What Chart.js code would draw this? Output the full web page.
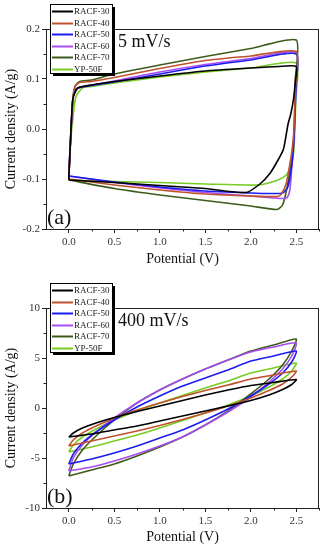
<!DOCTYPE html>
<html>
<head>
<meta charset="utf-8">
<script src="https://cdn.jsdelivr.net/npm/chart.js@4.4.0/dist/chart.umd.min.js"></script>
<style>
  html, body { margin: 0; padding: 0; background: #fff; }
  #wrap { position: relative; width: 326px; height: 550px; }
  canvas { position: absolute; left: 0; }
</style>
</head>
<body>
<div id="wrap">
  <canvas id="cvA" width="326" height="275" style="top:0"></canvas>
  <canvas id="cvB" width="326" height="275" style="top:275px"></canvas>
</div>
<script>
// samples, same order in both panels
const samples = ['RACF-30', 'RACF-40', 'RACF-50', 'RACF-60', 'RACF-70', 'YP-50F'];
const lineColors = ['#000000', '#c0522e', '#1c1cf0', '#a84cf2', '#3d5c1c', '#78cc24'];

// (a) 5 mV/s : one closed loop per sample, potential (V) -> current density (A/g)
// forward sweep 0 -> 2.5 V on top, reverse sweep back to 0 V underneath
const potA30 = [0, 0.02, 0.045, 0.1, 0.25, 0.5, 1.0, 1.5, 2.0, 2.3, 2.5, 2.49, 2.47, 2.44, 2.41, 2.36, 2.3, 2.21, 2.1, 1.95, 1.5, 1.0, 0.5, 0.1, 0];
const curA30 = [-0.102, -0.02, 0.06, 0.082, 0.088, 0.095, 0.106, 0.116, 0.122, 0.125, 0.125, 0.095, 0.06, 0.03, 0.01, -0.04, -0.062, -0.089, -0.11, -0.127, -0.119, -0.113, -0.107, -0.103, -0.102];

const potA40 = [0, 0.02, 0.045, 0.07, 0.12, 0.25, 0.5, 1.0, 1.5, 2.0, 2.5, 2.49, 2.475, 2.455, 2.43, 2.39, 2.34, 2.3, 2.0, 1.5, 1.0, 0.5, 0];
const curA40 = [-0.1, -0.02, 0.06, 0.085, 0.093, 0.095, 0.103, 0.121, 0.137, 0.146, 0.155, 0.08, 0.0, -0.04, -0.07, -0.109, -0.129, -0.135, -0.134, -0.13, -0.122, -0.112, -0.1];

const potA50 = [0, 0.02, 0.045, 0.065, 0.1, 0.25, 0.5, 1.0, 1.5, 2.0, 2.5, 2.495, 2.48, 2.465, 2.45, 2.41, 2.35, 2.2, 2.0, 1.5, 1.0, 0.5, 0];
const curA50 = [-0.094, -0.02, 0.06, 0.076, 0.082, 0.087, 0.094, 0.11, 0.126, 0.138, 0.15, 0.08, 0.0, -0.045, -0.073, -0.115, -0.128, -0.129, -0.128, -0.124, -0.116, -0.106, -0.094];

const potA60 = [0, 0.02, 0.045, 0.065, 0.1, 0.25, 0.5, 1.0, 1.5, 2.0, 2.5, 2.495, 2.48, 2.465, 2.45, 2.43, 2.4, 2.35, 2.0, 1.5, 1.0, 0.5, 0];
const curA60 = [-0.094, -0.02, 0.06, 0.076, 0.082, 0.088, 0.096, 0.114, 0.129, 0.141, 0.153, 0.08, 0.0, -0.05, -0.08, -0.122, -0.137, -0.139, -0.134, -0.127, -0.118, -0.107, -0.094];

const potA70 = [0, 0.02, 0.045, 0.07, 0.12, 0.25, 0.5, 1.0, 1.5, 2.0, 2.5, 2.49, 2.48, 2.465, 2.43, 2.39, 2.35, 2.29, 2.0, 1.5, 1.0, 0.5, 0];
const curA70 = [-0.102, -0.02, 0.06, 0.086, 0.095, 0.098, 0.11, 0.128, 0.145, 0.161, 0.178, 0.1, 0.02, -0.04, -0.085, -0.125, -0.152, -0.161, -0.154, -0.143, -0.132, -0.119, -0.102];

const potAYP = [0, 0.02, 0.05, 0.08, 0.15, 0.25, 0.5, 1.0, 1.5, 2.0, 2.5, 2.495, 2.485, 2.47, 2.43, 2.39, 2.3, 2.085, 1.5, 1.0, 0.5, 0];
const curAYP = [-0.102, -0.03, 0.03, 0.065, 0.082, 0.085, 0.092, 0.104, 0.114, 0.122, 0.132, 0.06, 0.0, -0.05, -0.078, -0.092, -0.102, -0.112, -0.11, -0.107, -0.105, -0.102];

// (b) 400 mV/s : same potential sweep for every sample, forward then reverse
const potB = [0, 0.05, 0.15, 0.3, 0.5, 0.75, 1.0, 1.25, 1.5, 1.75, 2.0, 2.25, 2.5,
              2.45, 2.35, 2.2, 2.0, 1.75, 1.5, 1.25, 1.0, 0.75, 0.5, 0.25, 0];
const curB30 = [-2.9, -2.5, -2.0, -1.5, -0.95, -0.35, 0.2, 0.75, 1.3, 1.8, 2.25, 2.55, 2.85,
                2.35, 1.85, 1.3, 0.75, 0.2, -0.3, -0.8, -1.3, -1.8, -2.2, -2.6, -2.9];
const curB40 = [-3.8, -3.2, -2.5, -1.8, -1.0, -0.2, 0.5, 1.15, 1.75, 2.3, 2.9, 3.3, 3.7,
                3.1, 2.4, 1.75, 1.0, 0.2, -0.5, -1.15, -1.75, -2.3, -2.8, -3.3, -3.8];
const curB50 = [-5.6, -4.6, -3.5, -2.4, -1.2, 0.1, 1.2, 2.2, 3.0, 3.8, 4.7, 5.2, 5.7,
                4.6, 3.5, 2.4, 1.2, -0.1, -1.2, -2.2, -3.0, -3.8, -4.5, -5.1, -5.6];
const curB60 = [-6.3, -5.0, -3.7, -2.4, -1.0, 0.5, 1.8, 2.9, 3.9, 4.8, 5.6, 6.1, 6.5,
                5.2, 3.9, 2.6, 1.1, -0.4, -1.7, -2.9, -3.8, -4.6, -5.3, -5.9, -6.3];
const curB70 = [-6.8, -5.6, -4.2, -2.8, -1.2, 0.5, 1.8, 2.9, 3.9, 4.8, 5.7, 6.3, 6.9,
                5.7, 4.3, 2.9, 1.4, -0.3, -1.7, -2.9, -3.9, -4.8, -5.6, -6.2, -6.8];
const curBYP = [-4.4, -3.7, -2.9, -2.1, -1.2, -0.3, 0.5, 1.25, 2.0, 2.7, 3.5, 4.0, 4.5,
                3.7, 2.9, 2.1, 1.2, 0.3, -0.5, -1.25, -2.0, -2.7, -3.3, -3.9, -4.4];

const xTicks = [0, 0.5, 1.0, 1.5, 2.0, 2.5];
const yTicksA = [-0.2, -0.1, 0, 0.1, 0.2];
const yTicksB = [-10, -5, 0, 5, 10];

const serif = '"Liberation Serif", "Times New Roman", serif';

// frame round the plot plus short minor ticks
const framePlugin = {
  id: 'frame',
  beforeDatasetsDraw(chart) {
    const {ctx, chartArea: a, scales} = chart;
    ctx.save();
    ctx.strokeStyle = '#222';
    ctx.lineWidth = 1;
    ctx.strokeRect(a.left + 0.5, a.top + 0.5, a.right - a.left - 1, a.bottom - a.top);
    ctx.beginPath();
    const xs = xTicks.map(v => v + 0.25);
    xs.forEach(v => {
      const p = Math.round(scales.x.getPixelForValue(v)) + 0.5;
      ctx.moveTo(p, a.bottom); ctx.lineTo(p, a.bottom + 2.5);
    });
    const yt = chart.options.scales.y.min === -10 ? yTicksB : yTicksA;
    for (let i = 0; i < yt.length - 1; i++) {
      const p = Math.round(scales.y.getPixelForValue((yt[i] + yt[i + 1]) / 2)) + 0.5;
      ctx.moveTo(a.left, p); ctx.lineTo(a.left - 2.5, p);
    }
    ctx.stroke();
    ctx.restore();
  }
};

// boxed legend with drop shadow, scan-rate note and panel letter
const notesPlugin = {
  id: 'notes',
  afterDraw(chart, args, o) {
    const {ctx, chartArea: a} = chart;
    const left = 50, top = a.top - 25, w = 62, h = 69;
    ctx.save();
    ctx.fillStyle = '#000';
    ctx.fillRect(left + 3, top + 3, w, h);
    ctx.fillStyle = '#fff';
    ctx.fillRect(left, top, w, h);
    ctx.strokeStyle = '#000';
    ctx.lineWidth = 1;
    ctx.strokeRect(left + 0.5, top + 0.5, w, h);
    ctx.font = '9px ' + serif;
    ctx.textBaseline = 'middle';
    chart.data.datasets.forEach((ds, i) => {
      const y = Math.round(top + 7 + i * 11.6) + 0.5;
      ctx.strokeStyle = ds.borderColor;
      ctx.lineWidth = 2;
      ctx.beginPath(); ctx.moveTo(left + 2, y); ctx.lineTo(left + 23, y); ctx.stroke();
      ctx.fillStyle = '#222';
      ctx.fillText(ds.label, left + 24, y);
    });
    ctx.fillStyle = '#111';
    ctx.textBaseline = 'alphabetic';
    ctx.font = '18px ' + serif;
    ctx.fillText(o.rate, 118, a.top + 18);
    ctx.font = '22px ' + serif;
    ctx.fillText(o.panel, 47, a.bottom - 5);
    ctx.restore();
  }
};

function makePanel(id, pots, curs, yTicks, yFmt, rate, panel, padTop, xAxisH, titlePad) {
  const datasets = samples.map((name, i) => ({
    label: name,
    data: pots[i].map((x, k) => ({x: x, y: curs[i][k]})),
    borderColor: lineColors[i],
    borderWidth: 1.6,
    pointRadius: 0,
    showLine: true,
    fill: false,
    tension: 0.2
  }));
  const tickFont = {family: serif, size: 11};
  const titleFont = {family: serif, size: 14};
  return new Chart(document.getElementById(id), {
    type: 'scatter',
    data: {datasets: datasets},
    options: {
      responsive: false,
      animation: false,
      layout: {padding: {top: padTop, right: 7, left: 0, bottom: 0}},
      plugins: {legend: {display: false}, tooltip: {enabled: false}, notes: {rate: rate, panel: panel}},
      scales: {
        x: {
          type: 'linear', min: -0.25, max: 2.75,
          afterFit: s => { s.height = xAxisH; },
          afterBuildTicks: s => { s.ticks = xTicks.map(v => ({value: v})); },
          ticks: {font: tickFont, color: '#333', padding: 3, maxRotation: 0, callback: v => v.toFixed(1)},
          grid: {display: true, drawOnChartArea: false, tickLength: 4, color: '#222'},
          border: {display: false},
          title: {display: true, text: 'Potential (V)', font: titleFont, color: '#111', padding: {top: 0, bottom: titlePad}}
        },
        y: {
          type: 'linear', min: yTicks[0], max: yTicks[yTicks.length - 1],
          afterFit: s => { s.width = 46; },
          afterBuildTicks: s => { s.ticks = yTicks.map(v => ({value: v})); },
          ticks: {font: tickFont, color: '#333', padding: 2, callback: yFmt},
          grid: {display: true, drawOnChartArea: false, tickLength: 4, color: '#222'},
          border: {display: false},
          title: {display: true, text: 'Current density (A/g)', font: titleFont, color: '#111', padding: {top: 3, bottom: 0}}
        }
      }
    },
    plugins: [framePlugin, notesPlugin]
  });
}

makePanel('cvA',
  [potA30, potA40, potA50, potA60, potA70, potAYP],
  [curA30, curA40, curA50, curA60, curA70, curAYP],
  yTicksA, v => v.toFixed(1), '5 mV/s', '(a)', 29, 46, 7);

makePanel('cvB',
  [potB, potB, potB, potB, potB, potB],
  [curB30, curB40, curB50, curB60, curB70, curBYP],
  yTicksB, v => String(v), '400 mV/s', '(b)', 33, 42, 4);
</script>
</body>
</html>
